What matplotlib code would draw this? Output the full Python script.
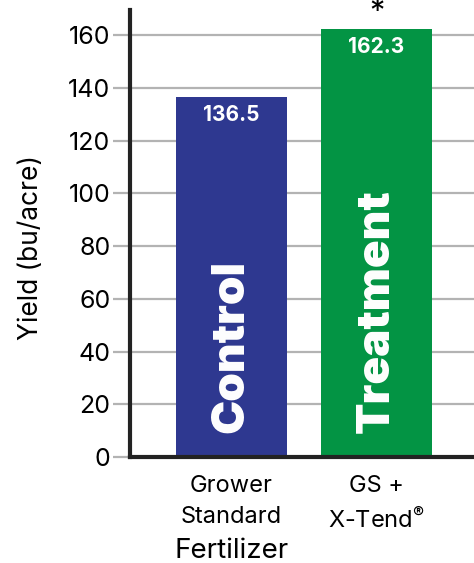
import matplotlib
matplotlib.use("Agg")
import matplotlib.pyplot as plt

# chart data
categories = ["Grower\nStandard", "GS +\nX-Tend$^{\u00ae}$"]
yields = [136.5, 162.3]
bar_names = ["Control", "Treatment"]
bar_colors = ["#2e3890", "#039444"]
yticks = [0, 20, 40, 60, 80, 100, 120, 140, 160]

plt.rcParams["font.family"] = ["Inter", "DejaVu Sans"]
plt.rcParams["mathtext.default"] = "regular"

fig = plt.figure(figsize=(4.74, 5.63), dpi=100)
ax = fig.add_axes([0.274, 0.188, 0.726, 0.794])

x = range(len(categories))
bars = ax.bar(x, yields, width=0.766, color=bar_colors, zorder=3)

ax.set_xlim(-0.7, 1.672)
ax.set_ylim(0, 169.5)
ax.set_yticks(yticks)
ax.set_yticklabels([str(t) for t in yticks], fontsize=18)
ax.yaxis.grid(True, color="#b3b3b3", linewidth=1.6, zorder=0)
ax.tick_params(axis="y", length=12, width=1.6, color="#b3b3b3", pad=2)
ax.set_xticks(list(x))
ax.set_xticklabels(categories, fontsize=17, linespacing=1.5)
ax.tick_params(axis="x", length=0, pad=13)

for side in ["top", "right"]:
    ax.spines[side].set_visible(False)
for side in ["left", "bottom"]:
    ax.spines[side].set_linewidth(3)
    ax.spines[side].set_color("#222222")
    ax.spines[side].set_zorder(4)

ax.set_ylabel("Yield (bu/acre)", fontsize=19)
ax.yaxis.set_label_coords(-0.25, 0.47)

for b, v, name in zip(bars, yields, bar_names):
    cx = b.get_x() + b.get_width() / 2
    ax.text(cx, v - 3, f"{v}", ha="center", va="top", color="white",
            fontsize=15, fontweight="bold", zorder=5)
    ax.text(cx, 9, name, ha="center", va="bottom", rotation=90, color="white",
            fontsize=33, fontweight="black", zorder=5)

ax.text(1, yields[1] + 1, "*", ha="center", va="bottom", fontsize=22, zorder=5)

fig.text(231.5 / 474, 0.009, "Fertilizer", ha="center", va="baseline", fontsize=20)

fig.savefig("out.png", dpi=100)
